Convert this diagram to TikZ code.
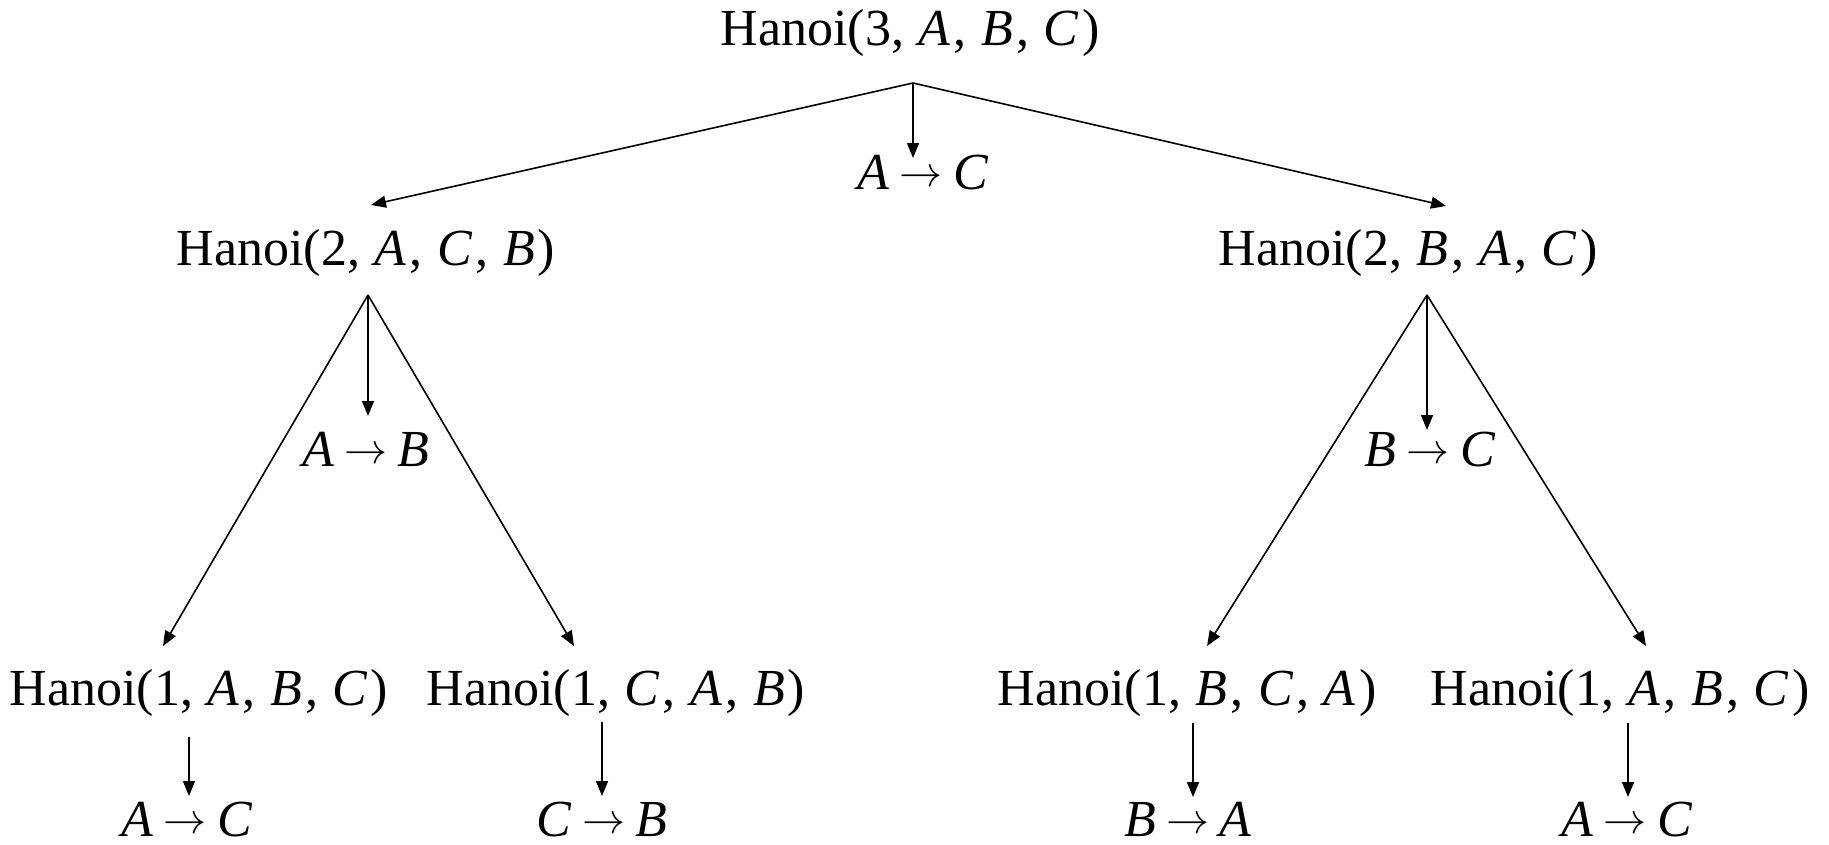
\documentclass[tikz,border=0pt]{standalone}
\usepackage{fontspec}
\setmainfont{Liberation Serif}
\usetikzlibrary{arrows.meta}
\newcommand\hv[1]{\textit{#1}}
\newcommand\hanoi[4]{Hanoi(#1,\hspace{0.28em}\hv{#2}\hspace{0.06em},\hspace{0.28em}\hv{#3}\hspace{0.06em},\hspace{0.28em}\hv{#4}\hspace{0.06em})}
\newcommand\mvarrow{\raisebox{3pt}{\scalebox{4.3}{\fontsize{10}{12}\selectfont$\rightarrow$}}}
\newcommand\mv[2]{\hv{#1}\hspace{0.2em}\mvarrow\hspace{0.2em}\hv{#2}}
\tikzset{
  lbl/.style={inner sep=0pt, anchor=base, font=\fontsize{52}{60}\selectfont},
  conn/.style={line width=1.6pt, -{Triangle[length=15pt,width=12pt]}, shorten >=0pt},
}
\begin{document}
\begin{tikzpicture}[x=1pt,y=-1pt]
\useasboundingbox (0,0) rectangle (1829,844);
% nodes
\node[lbl] (n0) at (910,45) {\hanoi{3}{A}{B}{C}};
\node[lbl] (m0) at (923,189) {\mv{A}{C}};
\node[lbl] (n1) at (366,265) {\hanoi{2}{A}{C}{B}};
\node[lbl] (n2) at (1408,265) {\hanoi{2}{B}{A}{C}};
\node[lbl] (m1) at (366,466) {\mv{A}{B}};
\node[lbl] (m2) at (1430,466) {\mv{B}{C}};
\node[lbl] (n11) at (199,705) {\hanoi{1}{A}{B}{C}};
\node[lbl] (n12) at (616,705) {\hanoi{1}{C}{A}{B}};
\node[lbl] (n21) at (1187,705) {\hanoi{1}{B}{C}{A}};
\node[lbl] (n22) at (1620,705) {\hanoi{1}{A}{B}{C}};
\node[lbl] (m11) at (187,836) {\mv{A}{C}};
\node[lbl] (m12) at (602,836) {\mv{C}{B}};
\node[lbl] (m21) at (1188,836) {\mv{B}{A}};
\node[lbl] (m22) at (1627,836) {\mv{A}{C}};
% connector points
\coordinate (a0) at (913,83);
\coordinate (t0l) at (371,205);
\coordinate (t0r) at (1446,206);
\coordinate (t0m) at (913,158);
\coordinate (a1) at (368,295);
\coordinate (t1l) at (163,646);
\coordinate (t1r) at (574,646);
\coordinate (t1m) at (368,416);
\coordinate (a2) at (1427,295);
\coordinate (t2l) at (1207,646);
\coordinate (t2r) at (1646,646);
\coordinate (t2m) at (1427,430);
\coordinate (s11) at (189,737);
\coordinate (e11) at (189,796);
\coordinate (s12) at (602,722);
\coordinate (e12) at (602,796);
\coordinate (s21) at (1193,723);
\coordinate (e21) at (1193,797);
\coordinate (s22) at (1628,723);
\coordinate (e22) at (1628,797);
% connectors
\draw[conn] (a0) -- (t0l);
\draw[conn] (a0) -- (t0r);
\draw[conn] (a0) -- (t0m);
\draw[conn] (a1) -- (t1l);
\draw[conn] (a1) -- (t1r);
\draw[conn] (a1) -- (t1m);
\draw[conn] (a2) -- (t2l);
\draw[conn] (a2) -- (t2r);
\draw[conn] (a2) -- (t2m);
\draw[conn] (s11) -- (e11);
\draw[conn] (s12) -- (e12);
\draw[conn] (s21) -- (e21);
\draw[conn] (s22) -- (e22);
\end{tikzpicture}
\end{document}
